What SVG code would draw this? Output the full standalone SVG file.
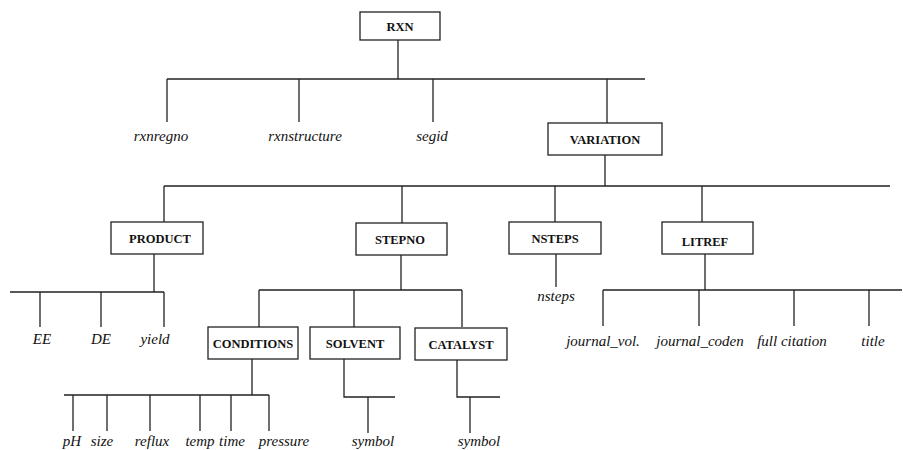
<svg xmlns="http://www.w3.org/2000/svg" width="903" height="450" viewBox="0 0 903 450">
<style>
.box{fill:#fff;stroke:#222;stroke-width:1.3}
.bt{font-family:"Liberation Serif",serif;font-weight:bold;font-size:12.5px;fill:#111;text-anchor:middle}
.it{font-family:"Liberation Serif",serif;font-style:italic;font-size:15px;fill:#111;text-anchor:middle}
.ln{fill:none;stroke:#222;stroke-width:1.3}
</style>
<rect width="903" height="450" fill="#fff"/>
<g id="connectors" class="ln">
<path d="M398 40V79M167 79H645M167 79V122M299 79V122M433 79V122M607 79V123"/>
<path d="M605 155V186M164 186H890M164 186V222M402 186V223M555 186V222M702 186V222"/>
<path d="M154 254V292M10 292H164M40 292V327M101 292V327M164 292V327"/>
<path d="M401 255V290M259 290H462M259 290V327M354 290V327M462 290V327"/>
<path d="M556 254V287"/>
<path d="M705 254V290M603 290H902M603 290V326M699 290V326M794 290V326M869 290V326"/>
<path d="M252 359V395M64 395H269M73 395V431M107 395V431M150 395V431M200 395V431M231 395V431M269 395V431"/>
<path d="M344 359V397H395M368 397V433"/>
<path d="M457 360V397H500M470 397V433"/>
</g>
<g id="RXN"><rect class="box" x="360" y="12" width="80" height="28"/><text class="bt" x="400" y="31">RXN</text></g>
<g id="rxnregno"><text class="it" x="161" y="141">rxnregno</text></g>
<g id="rxnstructure"><text class="it" x="305" y="141">rxnstructure</text></g>
<g id="segid"><text class="it" x="432" y="141">segid</text></g>
<g id="VARIATION"><rect class="box" x="548" y="123" width="114" height="32"/><text class="bt" x="605" y="144">VARIATION</text></g>
<g id="PRODUCT"><rect class="box" x="111" y="222" width="92" height="32"/><text class="bt" x="160" y="243">PRODUCT</text></g>
<g id="STEPNO"><rect class="box" x="356" y="223" width="91" height="32"/><text class="bt" x="400" y="244">STEPNO</text></g>
<g id="NSTEPS"><rect class="box" x="509" y="222" width="92" height="32"/><text class="bt" x="555" y="243">NSTEPS</text></g>
<g id="LITREF"><rect class="box" x="662" y="222" width="91" height="32"/><text class="bt" x="705" y="246">LITREF</text></g>
<g id="nsteps"><text class="it" x="556" y="301">nsteps</text></g>
<g id="EE"><text class="it" x="42" y="344">EE</text></g>
<g id="DE"><text class="it" x="101" y="344">DE</text></g>
<g id="yield"><text class="it" x="155" y="344">yield</text></g>
<g id="CONDITIONS"><rect class="box" x="208" y="327" width="90" height="32"/><text class="bt" x="253" y="348">CONDITIONS</text></g>
<g id="SOLVENT"><rect class="box" x="310" y="327" width="90" height="32"/><text class="bt" x="355" y="348">SOLVENT</text></g>
<g id="CATALYST"><rect class="box" x="415" y="328" width="92" height="32"/><text class="bt" x="461" y="349">CATALYST</text></g>
<g id="journal_vol"><text class="it" x="603" y="346">journal_vol.</text></g>
<g id="journal_coden"><text class="it" x="700" y="346">journal_coden</text></g>
<g id="full_citation"><text class="it" x="792" y="346">full citation</text></g>
<g id="title"><text class="it" x="873" y="346">title</text></g>
<g id="pH"><text class="it" x="72" y="446">pH</text></g>
<g id="size"><text class="it" x="102" y="446">size</text></g>
<g id="reflux"><text class="it" x="152" y="446">reflux</text></g>
<g id="temp"><text class="it" x="200" y="446">temp</text></g>
<g id="time"><text class="it" x="232" y="446">time</text></g>
<g id="pressure"><text class="it" x="284" y="446">pressure</text></g>
<g id="solvent_symbol"><text class="it" x="373" y="446">symbol</text></g>
<g id="catalyst_symbol"><text class="it" x="479" y="446">symbol</text></g>
</svg>
